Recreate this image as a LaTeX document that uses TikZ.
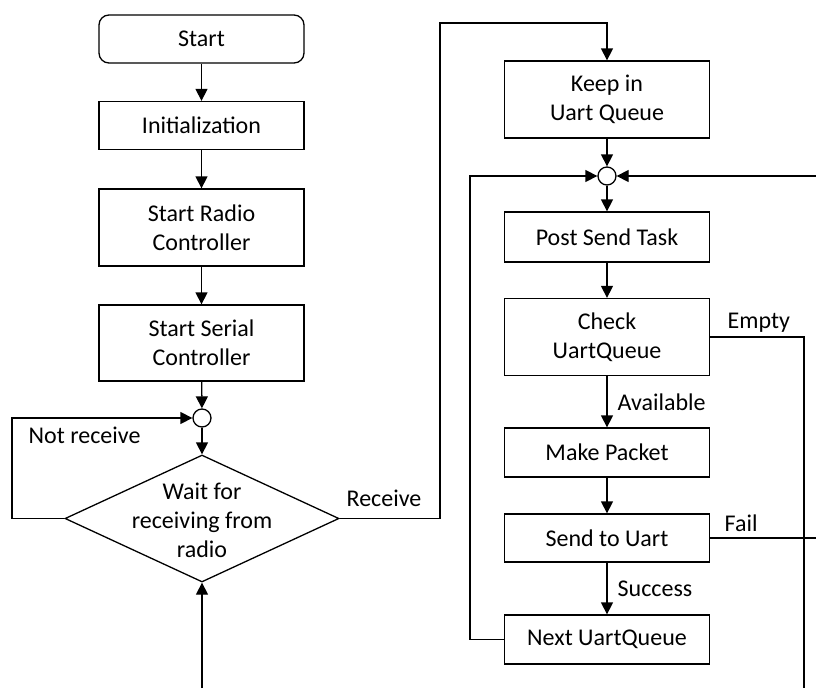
\documentclass[tikz,border=0pt]{standalone}
\usepackage{fontspec}
\setmainfont{Carlito}
\usetikzlibrary{arrows.meta,shapes.geometric}
\begin{document}
\begin{tikzpicture}[x=1pt,y=-1pt,
  line width=1.3pt,
  every node/.style={font=\fontsize{24}{29}\selectfont},
  box/.style={draw, minimum width=205pt, inner sep=0pt, align=center},
  term/.style={box, rounded corners=10pt},
  junc/.style={draw, circle, minimum size=18pt, inner sep=0pt, fill=white},
  lbl/.style={anchor=west, inner sep=0pt},
  arr/.style={-{Triangle[width=12pt,length=12pt]}}
]
\useasboundingbox (0,0) rectangle (816,688);
% left column
\node[term, minimum height=48pt] (start) at (201.5,39) {Start};
\node[box, minimum height=48pt] (init) at (201.5,125.5) {Initialization};
\node[box, minimum height=77pt] (radio) at (201.5,227.5) {Start Radio\\Controller};
\node[box, minimum height=76pt] (serial) at (201.5,343) {Start Serial\\Controller};
\node[junc] (j1) at (202,418) {};
\node[diamond, draw, minimum width=274pt, minimum height=127pt, inner sep=0pt] (wait) at (202,518.5) {};
\node[align=center, inner sep=0pt] (waittext) at (202,520) {Wait for\\receiving from\\radio};
% right column
\node[box, minimum height=77pt] (keep) at (607,99.5) {Keep in\\Uart Queue};
\node[junc] (j2) at (607,176) {};
\node[box, minimum height=50pt] (post) at (607,237) {Post Send Task};
\node[box, minimum height=77pt] (check) at (607,337) {Check\\UartQueue};
\node[box, minimum height=49pt] (make) at (607,452.5) {Make Packet};
\node[box, minimum height=48pt] (send) at (607,538) {Send to Uart};
\node[box, minimum height=49pt] (next) at (607,639.5) {Next UartQueue};
% coordinates for free ends / bends
\coordinate (nl) at (12,418);
\coordinate (bot) at (202,688);
\coordinate (rtop) at (440,23);
\coordinate (ll) at (470,176);
\coordinate (rr) at (816,176);
\coordinate (eb) at (804,688);
\coordinate (fr) at (816,538);
% connectors
\draw[arr] (start) -- (init);
\draw[arr] (init) -- (radio);
\draw[arr] (radio) -- (serial);
\draw[arr] (serial) -- (j1);
\draw[arr] (j1) -- (wait.north);
\draw[arr] (wait.west) -| (nl) -- (j1.west);
\draw[arr] (bot) -- (wait.south);
\draw[arr] (wait.east) -| (rtop) -| (keep.north);
\draw[arr] (keep) -- (j2);
\draw[arr] (j2) -- (post);
\draw[arr] (post) -- (check);
\draw[arr] (check) -- (make);
\draw[arr] (make) -- (send);
\draw[arr] (send) -- (next);
\draw[arr] (next.west) -| (ll) -- (j2.west);
\draw[arr] (rr) -- (j2.east);
\draw (check.east) -| (eb);
\draw (send.east) -- (fr);
% labels
\node[lbl] (lnot) at (28,435) {Not receive};
\node[lbl] (lrec) at (346,498) {Receive};
\node[lbl] (lemp) at (727,323) {Empty};
\node[lbl] (lava) at (617,402) {Available};
\node[lbl] (lfail) at (724,523) {Fail};
\node[lbl] (lsuc) at (617,589) {Success};
\end{tikzpicture}
\end{document}
